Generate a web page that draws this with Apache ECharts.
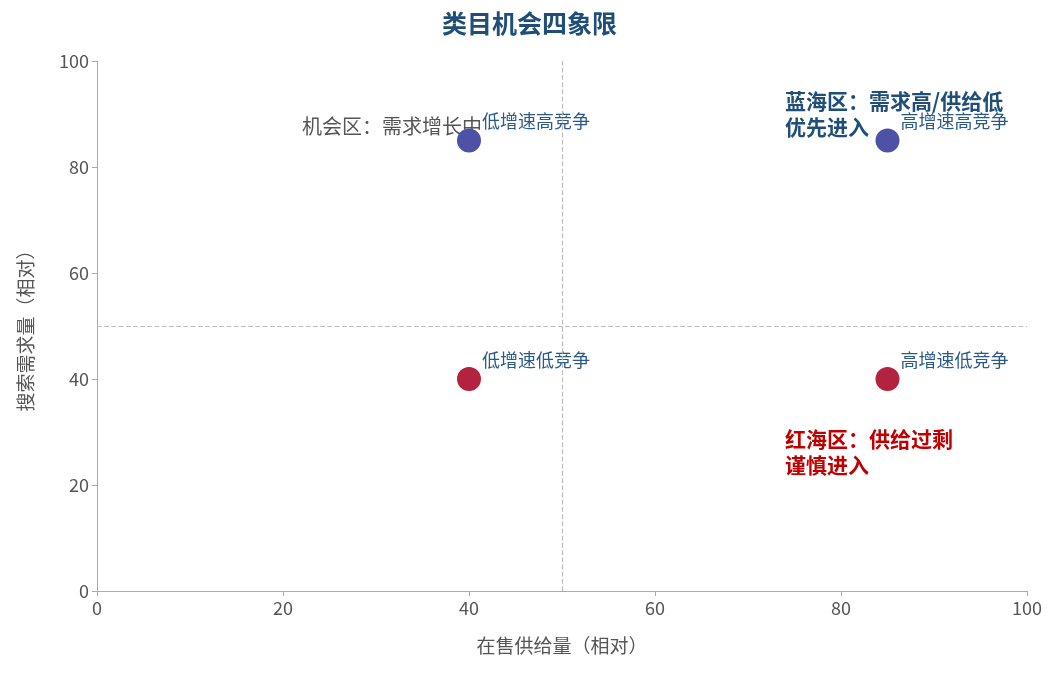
<!DOCTYPE html>
<html><head><meta charset="utf-8">
<script src="https://cdn.jsdelivr.net/npm/echarts@6/dist/echarts.min.js"></script>
<style>html,body{margin:0;padding:0;background:#fff}#c{width:1059px;height:674px}</style>
</head><body><div id="c"></div>
<script>
const names = ['低增速高竞争','高增速高竞争','低增速低竞争','高增速低竞争'];
const supply = [40, 85, 40, 85];
const demand = [85, 85, 40, 40];
const colors = ['#4d52a6','#4d52a6','#b3223f','#b3223f'];
const F = '"Noto Sans CJK SC", sans-serif';
const chart = echarts.init(document.getElementById('c'));
chart.setOption({
  textStyle:{fontFamily:F},
  title:{text:'类目机会四象限',left:'center',top:6,textStyle:{fontFamily:F,fontSize:25,fontWeight:'bold',color:'#1f4e79'}},
  grid:{left:97,right:32,top:61,bottom:83},
  xAxis:{type:'value',min:0,max:100,interval:20,name:'在售供给量（相对）',nameLocation:'middle',nameGap:45,
    nameTextStyle:{fontSize:19,color:'#555'},splitLine:{show:false},
    axisLine:{lineStyle:{color:'#aaa'}},axisTick:{show:true,lineStyle:{color:'#aaa'}},axisLabel:{fontSize:18,color:'#555'}},
  yAxis:{type:'value',min:0,max:100,interval:20,name:'搜索需求量（相对）',nameLocation:'middle',nameGap:62,
    nameTextStyle:{fontSize:19,color:'#555'},splitLine:{show:false},
    axisLine:{show:true,lineStyle:{color:'#aaa'}},axisTick:{show:true,lineStyle:{color:'#aaa'}},axisLabel:{fontSize:18,color:'#555'}},
  series:[{
    type:'scatter',symbolSize:24,
    data:names.map((n,i)=>({name:n,value:[supply[i],demand[i]],itemStyle:{color:colors[i],opacity:1}})),
    label:{show:true,formatter:'{b}',position:'right',offset:[-4,-19],fontSize:18,color:'#2a5a8a'},
    markLine:{silent:true,symbol:'none',label:{show:false},lineStyle:{type:'dashed',color:'#bbb',width:1.2},
      data:[{xAxis:50},{yAxis:50}]}
  }],
  graphic:[
    {type:'text',left:302,top:116,z:0,style:{text:'机会区：需求增长中',fontSize:20,fill:'#555',fontFamily:F}},
    {type:'text',left:785,top:88,style:{text:'蓝海区：需求高/供给低\n优先进入',fontSize:21,fontWeight:'bold',fill:'#1f4e79',lineHeight:26,fontFamily:F}},
    {type:'text',left:785,top:426,style:{text:'红海区：供给过剩\n谨慎进入',fontSize:21,fontWeight:'bold',fill:'#c00000',lineHeight:26,fontFamily:F}}
  ]
});
</script></body></html>
